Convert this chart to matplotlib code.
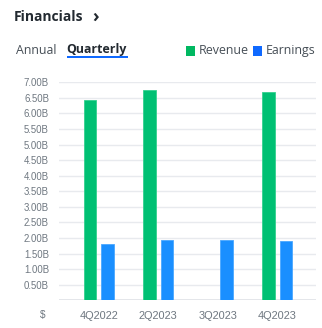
import matplotlib
matplotlib.use("Agg")
import matplotlib.pyplot as plt
from matplotlib.patches import Rectangle
import numpy as np

# Quarterly figures, in billions of dollars (None = not reported)
quarters = ["4Q2022", "2Q2023", "3Q2023", "4Q2023"]
revenue = [6.43, 6.76, None, 6.68]
earnings = [1.81, 1.95, 1.94, 1.90]
y_ticks = [0.5, 1.0, 1.5, 2.0, 2.5, 3.0, 3.5, 4.0, 4.5, 5.0, 5.5, 6.0, 6.5, 7.0]
y_tick_labels = [f"{v:.2f}B" for v in y_ticks]

GREEN = "#00c073"
BLUE = "#1a8fff"
LEGEND_GREEN = "#00b861"
LEGEND_BLUE = "#0f69ff"
GRID = "#e8eaee"
LABEL = "#6e7780"
NARROW = ["Liberation Sans Narrow", "Liberation Sans", "DejaVu Sans"]

W, H = 322, 328
fig = plt.figure(figsize=(W / 100, H / 100), dpi=100)
fig.patch.set_facecolor("white")

ax = fig.add_axes([59 / W, (H - 300.3) / H, (316 - 59) / W, (300.3 - 82.3) / H])
ax.set_facecolor("white")

x = np.arange(len(quarters))
width = 0.207
offset = 0.146
for i in range(len(quarters)):
    if revenue[i] is not None:
        ax.bar(x[i] - offset, revenue[i], width, color=GREEN,
               edgecolor="#33d08f", linewidth=0.6, zorder=3)
    if earnings[i] is not None:
        ax.bar(x[i] + offset, earnings[i], width, color=BLUE,
               edgecolor="#4aa7ff", linewidth=0.6, zorder=3)

ax.set_xlim(-0.667, 3.652)
ax.set_ylim(0, 7.0)
ax.set_yticks(y_ticks)
ax.set_yticklabels(y_tick_labels)
ax.set_xticks(x)
ax.set_xticklabels(quarters)

for v in y_ticks:
    ax.axhline(v, color=GRID, linewidth=1.0, zorder=1)
ax.axhline(0, color="#dfe2e6", linewidth=1.2, zorder=2)

for s in ax.spines.values():
    s.set_visible(False)
ax.tick_params(axis="both", length=0, colors=LABEL)
ax.tick_params(axis="y", pad=7.2, labelsize=6.9)
ax.tick_params(axis="x", pad=8, labelsize=7.9)
for t in ax.get_yticklabels():
    t.set_fontfamily(NARROW)
for t in ax.get_xticklabels():
    t.set_fontfamily("Liberation Sans")

# Currency marker on the x-label row
fig.text(45.5 / W, 1 - 315 / H, "$", ha="right", va="center",
         fontsize=7.2, color=LABEL, family="Liberation Sans")

# Header
fig.text(14 / W, 1 - 17 / H, "Financials", ha="left", va="center",
         fontsize=10, fontweight="bold", color="#232a31", family="Open Sans")
fig.text(92 / W, 1 - 16.5 / H, "›", ha="left", va="center",
         fontsize=13, fontweight="bold", color="#232a31", family="Open Sans")

fig.text(16 / W, 1 - 50 / H, "Annual", ha="left", va="center",
         fontsize=8.9, color="#464e56", family="Open Sans")
fig.text(66.5 / W, 1 - 50 / H, "Quarterly", ha="left", va="center",
         fontsize=8.9, fontweight="bold", color="#232a31", family="Open Sans")
fig.add_artist(Rectangle((67 / W, 1 - 58.3 / H), 61 / W, 2 / H,
                         transform=fig.transFigure, color=LEGEND_BLUE, lw=0))

# Legend
fig.add_artist(Rectangle((186 / W, 1 - 55.5 / H), 9 / W, 9.5 / H,
                         transform=fig.transFigure, color=LEGEND_GREEN, lw=0))
fig.text(198.5 / W, 1 - 50.5 / H, "Revenue", ha="left", va="center",
         fontsize=8.9, color="#464e56", family="Open Sans")
fig.add_artist(Rectangle((253.3 / W, 1 - 55.5 / H), 9 / W, 9.5 / H,
                         transform=fig.transFigure, color=LEGEND_BLUE, lw=0))
fig.text(265.5 / W, 1 - 50.5 / H, "Earnings", ha="left", va="center",
         fontsize=8.9, color="#464e56", family="Open Sans")

fig.savefig("out.png", dpi=100, facecolor="white")
